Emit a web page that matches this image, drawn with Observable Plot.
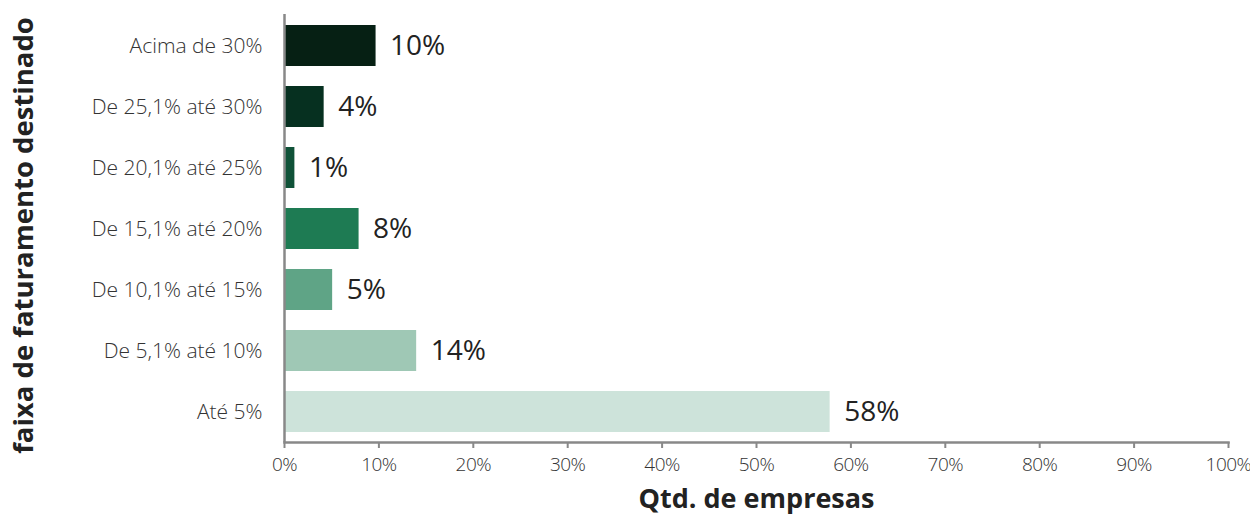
<!DOCTYPE html>
<html>
<head>
<meta charset="utf-8">
<script src="https://cdn.jsdelivr.net/npm/d3@7"></script>
<script src="https://cdn.jsdelivr.net/npm/@observablehq/plot@0.6"></script>
<style>
  html, body { margin: 0; padding: 0; background: #fff; }
  #chart svg { display: block; }
  #chart svg g[aria-label="x-axis tick label"] text { letter-spacing: -0.5px; }
</style>
</head>
<body>
<div id="chart"></div>
<script>
const categories = ["Acima de 30%", "De 25,1% até 30%", "De 20,1% até 25%", "De 15,1% até 20%", "De 10,1% até 15%", "De 5,1% até 10%", "Até 5%"];
const values = [9.7, 4.2, 1.1, 7.9, 5.1, 14.0, 57.8];
const colors = ["#062014", "#063020", "#105238", "#1e7b53", "#5fa486", "#9fc8b5", "#cde3da"];
const xTicks = [0, 10, 20, 30, 40, 50, 60, 70, 80, 90, 100];
const xTitle = "Qtd. de empresas";
const yTitle = "faixa de faturamento destinado";

const data = categories.map((c, i) => ({cat: c, value: values[i], color: colors[i], label: Math.round(values[i]) + "%"}));

const font = "'Open Sans', sans-serif";

const chart = Plot.plot({
  width: 1250,
  height: 516,
  marginLeft: 284,
  marginRight: 22,
  marginTop: 14,
  marginBottom: 74,
  style: {fontFamily: font, background: "#fff"},
  x: {domain: [0, 100]},
  y: {domain: categories, paddingInner: 0.33, paddingOuter: 0.165},
  marks: [
    Plot.barX(data, {y: "cat", x: "value", fill: "color"}),
    Plot.text(data, {y: "cat", x: "value", text: "label", textAnchor: "start", dx: 14, fontSize: 28, fill: "#222"}),
    Plot.axisY({tickSize: 0, tickPadding: 22, fontSize: 21, fontWeight: 300, color: "#333", label: null}),
    Plot.axisX({ticks: xTicks, tickFormat: d => d + "%", tickSize: 6, tickPadding: 9, fontSize: 19, fontWeight: 300, color: "#333", stroke: "#888", strokeWidth: 2, label: null}),
    Plot.ruleX([0], {stroke: "#888", strokeWidth: 2.5}),
    Plot.frame({anchor: "bottom", stroke: "#888", strokeWidth: 2.5}),
    Plot.text([xTitle], {frameAnchor: "bottom", dy: 65, fontSize: 27, fontWeight: "bold", fill: "#222"}),
    Plot.text([yTitle], {frameAnchor: "left", textAnchor: "middle", dx: -260, dy: 7, rotate: -90, fontSize: 27.5, fontWeight: "bold", fill: "#222"})
  ]
});
document.getElementById("chart").appendChild(chart);
</script>
</body>
</html>
